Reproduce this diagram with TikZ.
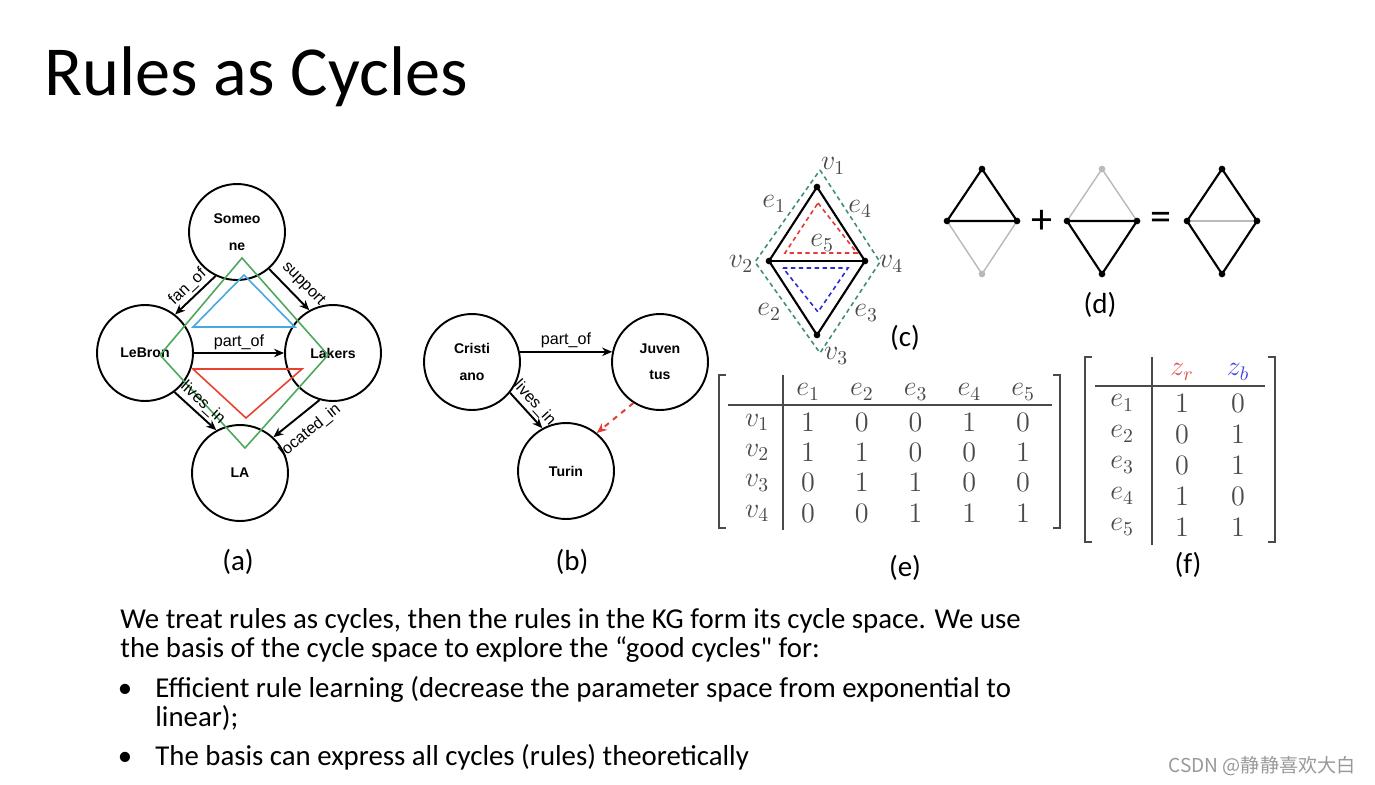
\RequirePackage{fix-cm}
\documentclass[tikz,border=0pt]{standalone}
\usepackage[no-math]{fontspec}
\setmainfont{Carlito}[Ligatures=TeXOff]
\newfontfamily\arialfont{Liberation Sans}
\newfontfamily\cjkfont{Noto Sans CJK SC}
\usetikzlibrary{
  arrows.meta
}
\definecolor{cyclegreen}{HTML}{4CA85A}
\definecolor{cycleblue}{HTML}{45A8E0}
\definecolor{cyclered}{HTML}{E8412F}
\definecolor{basisgreen}{HTML}{3F8F78}
\definecolor{basisred}{HTML}{E53935}
\definecolor{basisblue}{HTML}{2B2BD6}
\definecolor{mathgray}{HTML}{4A4A4A}
\definecolor{zred}{HTML}{E05050}
\definecolor{zblue}{HTML}{4444E0}

\begin{document}
\begin{tikzpicture}[
  x=0.02cm, y=-0.02cm,
  entity/.style={draw, circle, line width=1.1pt, minimum size=1.92cm, inner sep=0pt,
                 align=center, font=\arialfont\bfseries\fontsize{8}{15}\selectfont},
  rel/.style={-{Stealth[length=2mm, width=1.7mm]}, line width=1.1pt},
  rellabel/.style={font=\arialfont\fontsize{9.2}{10}\selectfont, sloped, above, inner sep=1.5pt},
  cycle/.style={line width=0.9pt},
  basis/.style={line width=0.9pt, dash pattern=on 2.5pt off 2pt},
  dot/.style={circle, fill, inner sep=0pt, minimum size=3.8pt},
  mlabel/.style={text=mathgray, font=\fontsize{16}{16}\selectfont},
  cell/.style={text=mathgray, font=\fontsize{16}{16}\selectfont},
  caption/.style={font=\fontsize{16.5}{16.5}\selectfont},
  body/.style={anchor=base west, align=left, inner sep=0pt, font=\fontsize{16.4}{16.4}\selectfont},
  solid edge/.style={line width=1.2pt},
  faint edge/.style={line width=0.8pt, gray!55}
]
  \useasboundingbox[fill=white] (0,0) rectangle (1375,784);

  % Title
  \node[anchor=base west, inner sep=0pt, font=\fontsize{40}{40}\selectfont] (title) at (44,95) {Rules as Cycles};

  % (a) knowledge graph with cycles
  \node[entity] (someone) at (237,232) {Someo\\ne};
  \node[entity] (lebron) at (145,353) {LeBron};
  \node[entity] (lakers) at (333,353) {Lakers};
  \node[entity] (la) at (240,473) {LA};

  \draw[cycle, cyclegreen] (242,258) -- (328,355) -- (245,448) -- (160,355) -- cycle;
  \draw[cycle, cycleblue] (244,275) -- (295,327) -- (193,327) -- cycle;
  \draw[cycle, cyclered] (193,369) -- (302,369) -- (246,418) -- cycle;

  \draw[rel] (someone.244) -- node[rellabel] {fan\_of} (lebron.52);
  \draw[rel] (someone.311) -- node[rellabel, pos=0.6, above=2pt] {support} (lakers.119);
  \draw[rel] (lebron) -- node[rellabel] {part\_of} (lakers);
  \draw[rel] (lebron.307) -- node[rellabel, pos=0.5] {lives\_in} (la.119);
  \draw[rel] (lakers.254) -- node[rellabel, below=4pt, pos=0.45] {located\_in} (la.47);

  \node[caption] (capa) at (238,562) {(a)};

  % (b) missing link
  \node[entity] (cristiano) at (472,362) {Cristi\\ano};
  \node[entity] (juventus) at (660,362) {Juven\\tus};
  \node[entity] (turin) at (566,471) {Turin};

  \draw[rel] (cristiano.12) -- node[rellabel] {part\_of} (juventus.168);
  \draw[rel] (cristiano.321) -- node[rellabel] {lives\_in} (turin.119);
  \draw[rel, dashed, basisred] (juventus.237) -- (turin.51);

  \node[caption] (capb) at (572,562) {(b)};

  % (c) small graph and its cycles
  \draw[basis, basisgreen] (820,170) -- (880,262) -- (820,353) -- (755,262) -- cycle;
  \draw[basis, basisred] (818,203) -- (857,253) -- (785,253) -- cycle;
  \draw[basis, basisblue] (783,268) -- (848,268) -- (818,312) -- cycle;

  \node[dot] (v1) at (817,187) {};
  \node[dot] (v2) at (769,261) {};
  \node[dot] (v3) at (817,335) {};
  \node[dot] (v4) at (865,261) {};
  \draw[solid edge] (v1.center) -- (v2.center) -- (v3.center) -- (v4.center) -- cycle;
  \draw[solid edge] (v2.center) -- (v4.center);

  \node[mlabel] (lv1) at (833,166) {$v_1$};
  \node[mlabel] (lv2) at (741,264) {$v_2$};
  \node[mlabel] (lv3) at (836,356) {$v_3$};
  \node[mlabel] (lv4) at (891,264) {$v_4$};
  \node[mlabel] (le1) at (774,204) {$e_1$};
  \node[mlabel] (le2) at (769,312) {$e_2$};
  \node[mlabel] (le3) at (866,313) {$e_3$};
  \node[mlabel] (le4) at (860,209) {$e_4$};
  \node[mlabel] (le5) at (822,243) {$e_5$};

  \node[caption] (capc) at (905,338) {(c)};

  % (d) sum of two cycles
  \foreach \n/\dx in {1/0, 2/120, 3/240} {
    \coordinate (d\n t) at (982+\dx,169);
    \coordinate (d\n l) at (947+\dx,221);
    \coordinate (d\n r) at (1017+\dx,221);
    \coordinate (d\n b) at (982+\dx,274);
  }
  \draw[solid edge] (d1l) -- (d1t) -- (d1r) -- (d1l);
  \draw[faint edge] (d1l) -- (d1b) -- (d1r);
  \draw[faint edge] (d2l) -- (d2t) -- (d2r);
  \draw[solid edge] (d2r) -- (d2l) -- (d2b) -- (d2r);
  \draw[faint edge] (d3l) -- (d3r);
  \draw[solid edge] (d3t) -- (d3r) -- (d3b) -- (d3l) -- cycle;
  \foreach \p in {d1t, d1l, d1r, d2l, d2r, d2b, d3t, d3l, d3r, d3b}
    \node[dot] at (\p) {};
  \node[dot, gray!55] at (d1b) {};
  \node[dot, gray!55] at (d2t) {};

  \node[font=\fontsize{24}{24}\selectfont] (plus) at (1042,222) {+};
  \node[font=\fontsize{24}{24}\selectfont] (equals) at (1161,221) {=};
  \node[caption] (capd) at (1100,305) {(d)};

  % (e) incidence matrix
  \draw[line width=1pt, mathgray] (726,375) -- (719,375) -- (719,528) -- (726,528);
  \draw[line width=1pt, mathgray] (1053,375) -- (1060,375) -- (1060,528) -- (1053,528);
  \draw[line width=0.7pt, mathgray] (783,375) -- (783,530);
  \draw[line width=0.7pt, mathgray] (728,405) -- (1052,405);
  \foreach \c in {1,...,5}
    \node[cell] (eh\c) at (808+53.75*\c-53.75,392) {$e_{\c}$};
  \foreach \r/\vals in {1/{1,0,0,1,0}, 2/{1,1,0,0,1}, 3/{0,1,1,0,0}, 4/{0,0,1,1,1}} {
    \node[cell] (ev\r) at (757,392+30.3*\r) {$v_{\r}$};
    \foreach \v [count=\c] in \vals
      \node[cell] (e\r-\c) at (808+53.75*\c-53.75,392+30.3*\r) {$\v$};
  }
  \node[caption] (cape) at (905,568) {(e)};

  % (f) cycle vectors
  \draw[line width=1pt, mathgray] (1092,357) -- (1085,357) -- (1085,542) -- (1092,542);
  \draw[line width=1pt, mathgray] (1268,357) -- (1275,357) -- (1275,542) -- (1268,542);
  \draw[line width=0.7pt, mathgray] (1152,357) -- (1152,545);
  \draw[line width=0.7pt, mathgray] (1095,386) -- (1265,386);
  \node[cell, text=zred] (zr) at (1182,372) {$z_r$};
  \node[cell, text=zblue] (zb) at (1238,372) {$z_b$};
  \foreach \r/\a/\b in {1/1/0, 2/0/1, 3/0/1, 4/1/0, 5/1/1} {
    \node[cell] (fe\r) at (1122,372+31*\r) {$e_{\r}$};
    \node[cell] (fr\r) at (1182,372+31*\r) {$\a$};
    \node[cell] (fb\r) at (1238,372+31*\r) {$\b$};
  }
  \node[caption] (capf) at (1188,565) {(f)};

  % Text
  \node[body] (intro) at (120,657) {We treat rules as cycles, then the rules in the KG form its cycle space. We use\\
    the basis of the cycle space to explore the “good cycles" for:};
  \node[body, anchor=base] (bul1) at (125,697) {•};
  \node[body] (item1) at (155,726) {Efficient rule learning (decrease the parameter space from exponential to\\linear);};
  \node[body, anchor=base] (bul2) at (125,765) {•};
  \node[body] (item2) at (155,765) {The basis can express all cycles (rules) theoretically};

  \node[anchor=base east, text=gray!80, font=\cjkfont\fontsize{10.9}{10.9}\selectfont] (mark) at (1362,772) {CSDN @静静喜欢大白};
\end{tikzpicture}
\end{document}
